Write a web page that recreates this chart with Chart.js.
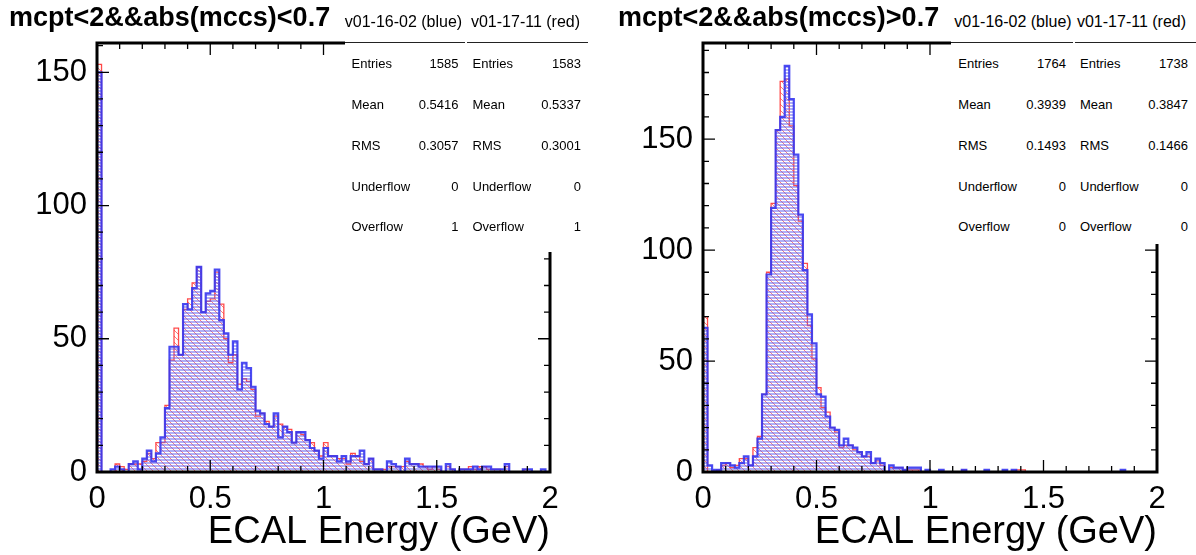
<!DOCTYPE html>
<html><head><meta charset="utf-8">
<script src="https://cdn.jsdelivr.net/npm/chart.js@4.4.0/dist/chart.umd.min.js"></script>
<style>
html,body{margin:0;padding:0;background:#fff;}
#wrap{position:relative;width:1196px;height:555px;overflow:hidden;font-family:"Liberation Sans",Arial,Helvetica,sans-serif;}
canvas{position:absolute;top:0;}
.t{position:absolute;white-space:nowrap;color:#000;line-height:1.15;transform:translateY(-50%);}
.title{font-weight:bold;font-size:27px;}
.hdr{font-size:16px;}
.row{font-size:13px;}
.box{position:absolute;background:#fff;}
.ul{position:absolute;height:1px;background:#222;}
</style></head>
<body><div id="wrap">
<canvas id="c1" width="598" height="555" style="left:0"></canvas>
<canvas id="c2" width="598" height="555" style="left:598px"></canvas>
</div>
<script>
// ---------------- data ----------------
const X_MIN = 0, X_MAX = 2, N_BINS = 100;
const X_TICKS_STEP = 0.5;
const Y_TICK_STEP = 50;
const PANEL_TITLES = ['mcpt<2&&abs(mccs)<0.7', 'mcpt<2&&abs(mccs)>0.7'];
const AXIS_TITLE = 'ECAL Energy (GeV)';
const SERIES_NAMES = ['v01-16-02 (blue)', 'v01-17-11 (red)'];
const STAT_LABELS = ['Entries', 'Mean', 'RMS', 'Underflow', 'Overflow'];
const STATS_L_BLUE = ['1585', '0.5416', '0.3057', '0', '1'];
const STATS_L_RED  = ['1583', '0.5337', '0.3001', '0', '1'];
const STATS_R_BLUE = ['1764', '0.3939', '0.1493', '0', '0'];
const STATS_R_RED  = ['1738', '0.3847', '0.1466', '0', '0'];

// left panel |mccs|<0.7
const L_BLUE = [150,0,0,1,2,1,0,3,4,1, 5,8,4,7,13,24,47,47,44,63, 61,69,77,60,67,68,76,57,52,44,
 49,31,41,39,32,23,22,18,17,22, 13,17,15,11,15,15,12,9,8,5, 9,6,6,4,6,4,6,6,8,3,
 5,1,1,0,4,3,2,0,5,3, 3,2,2,2,2,2,0,3,1,0, 1,1,1,2,1,2,2,1,1,1, 3,0,0,0,1,1,0,0,1,0];
const L_RED = [153,0,0,0,3,2,1,3,3,3, 4,7,5,11,11,25,42,54,44,61, 65,71,77,60,64,65,75,63,50,41,
 44,33,35,34,31,21,22,19,17,21, 18,17,16,11,15,14,12,11,8,6, 11,6,6,5,5,3,7,6,4,3,
 5,1,1,1,2,2,2,2,4,3, 3,3,2,1,2,1,0,2,1,0, 1,1,2,1,2,2,1,1,1,0, 2,0,0,0,1,0,0,0,0,0];
// right panel |mccs|>0.7
const R_BLUE = [65,3,1,1,4,4,3,2,4,7, 3,7,15,35,89,119,154,160,183,168, 143,116,91,71,58,35,34,25,20,19,
 12,15,12,11,9,7,9,4,6,4, 0,3,2,2,1,2,2,2,0,1, 0,0,1,0,0,0,0,1,0,0,
 0,0,1,0,0,0,1,0,1,0, 0,0,0,0,0,0,0,0,0,0, 0,0,0,0,0,0,0,0,0,0, 0,0,1,0,0,0,0,0,0,0];
const R_RED = [70,0,0,1,3,4,2,3,6,6, 3,11,16,35,90,121,154,176,177,156, 129,113,94,66,51,38,29,27,20,18,
 11,12,12,10,9,7,7,4,5,3, 0,2,2,2,1,1,1,1,0,0, 0,0,0,0,0,0,0,1,0,0,
 0,0,0,0,0,0,0,0,0,1, 1,0,0,0,0,0,0,0,0,0, 0,0,0,0,0,0,0,0,0,0, 0,0,0,0,0,0,0,0,0,0];

const FONT = '"Liberation Sans", Arial, Helvetica, sans-serif';
const BIN_W = (X_MAX - X_MIN) / N_BINS;

function histPoints(vals){
  const pts = [{x: X_MIN, y: 0}];
  vals.forEach((v, i) => pts.push({x: X_MIN + i * BIN_W, y: v}));
  pts.push({x: X_MAX, y: 0});
  return pts;
}

function makePattern(kind){
  const c = document.createElement('canvas');
  const g = c.getContext('2d');
  if (kind === 'blue'){
    c.width = 6; c.height = 3;
    g.fillStyle = 'rgba(95,95,240,0.5)';
    g.fillRect(0, 0, 6, 2);
  } else {
    c.width = 6; c.height = 6;
    g.fillStyle = 'rgba(255,40,40,0.62)';
    for (let i = 0; i < 6; i++) g.fillRect(i, i, 1, 1);
  }
  return g.createPattern(c, 'repeat');
}

const framePlugin = {
  id: 'rootFrame',
  afterDatasetsDraw(chart){
    const {ctx, chartArea: a, scales: {x, y}} = chart;
    ctx.save();
    ctx.strokeStyle = '#000';
    ctx.lineWidth = 1.3;
    ctx.beginPath();
    for (let i = 0; i <= 20; i++){
      const px = x.getPixelForValue(X_MIN + i * 0.1);
      const L = (i % 5 === 0) ? 12 : 6;
      ctx.moveTo(px, a.bottom); ctx.lineTo(px, a.bottom - L);
      ctx.moveTo(px, a.top); ctx.lineTo(px, a.top + L);
    }
    for (let v = 0; v <= y.max; v += 10){
      const py = y.getPixelForValue(v);
      const L = (v % 50 === 0) ? 12 : 6;
      ctx.moveTo(a.left, py); ctx.lineTo(a.left + L, py);
      ctx.moveTo(a.right, py); ctx.lineTo(a.right - L, py);
    }
    ctx.stroke();
    ctx.lineWidth = 3;
    ctx.strokeRect(a.left, a.top, a.right - a.left, a.bottom - a.top);
    ctx.restore();
  }
};

function makeChart(id, blue, red, yMax, padRight, yWidth){
  return new Chart(document.getElementById(id), {
    type: 'line',
    data: { datasets: [
      { data: histPoints(blue), stepped: 'before', fill: 'origin', backgroundColor: makePattern('blue'),
        borderColor: 'rgba(55,55,240,0.9)', borderWidth: 2.2, pointRadius: 0 },
      { data: histPoints(red), stepped: 'before', fill: 'origin', backgroundColor: makePattern('red'),
        borderColor: 'rgba(255,45,45,0.85)', borderWidth: 1.3, pointRadius: 0 }
    ]},
    options: {
      responsive: false, animation: false, devicePixelRatio: 1,
      layout: { padding: { left: 0, right: padRight, top: 43, bottom: 0 } },
      plugins: { legend: { display: false }, tooltip: { enabled: false } },
      scales: {
        x: { type: 'linear', min: X_MIN, max: X_MAX,
             grid: { display: false, drawTicks: false }, border: { display: false },
             ticks: { stepSize: X_TICKS_STEP, includeBounds: false, autoSkip: false, maxRotation: 0,
                      font: { family: FONT, size: 31 }, color: '#000', padding: 9,
                      callback: (v) => String(Math.round(v * 100) / 100) },
             title: { display: true, text: AXIS_TITLE, align: 'end', color: '#000',
                      font: { family: FONT, size: 38 }, padding: { top: 0, bottom: 0 } },
             afterFit(s){ s.height = 83; } },
        y: { min: 0, max: yMax,
             grid: { display: false, drawTicks: false }, border: { display: false },
             ticks: { stepSize: Y_TICK_STEP, includeBounds: false,
                      font: { family: FONT, size: 31 }, color: '#000', padding: 10 },
             afterFit(s){ s.width = yWidth; } }
      }
    },
    plugins: [framePlugin]
  });
}

makeChart('c1', L_BLUE, L_RED, 161, 48, 97);
makeChart('c2', R_BLUE, R_RED, 193.3, 39, 105);

// ---------------- overlays (titles, stat boxes) ----------------
const wrap = document.getElementById('wrap');
function el(cls, text, style){
  const d = document.createElement('div');
  d.className = cls; if (text !== null) d.textContent = text;
  Object.assign(d.style, style); wrap.appendChild(d); return d;
}
function statBox(cfg){
  el('box', null, {left: cfg.boxL + 'px', top: '0px', width: cfg.boxW + 'px', height: cfg.boxH + 'px'});
  cfg.cols.forEach((c, ci) => {
    const hd = el('t hdr', SERIES_NAMES[ci], {top: '22px', left: c.hc + 'px'});
    hd.style.transform = 'translate(-50%,-50%)';
    el('ul', null, {left: c.u0 + 'px', width: (c.u1 - c.u0) + 'px', top: '42px'});
    STAT_LABELS.forEach((lab, ri) => {
      const yy = cfg.rows[ri];
      el('t row', lab, {top: yy + 'px', left: c.lab + 'px'});
      const v = el('t row', c.vals[ri], {top: yy + 'px', left: c.val + 'px'});
      v.style.transform = 'translate(-100%,-50%)';
    });
  });
}
el('t title', PANEL_TITLES[0], {top: '18px', left: '9px'});
el('t title', PANEL_TITLES[1], {top: '18px', left: '618px'});
const ROWS_Y = [63.5, 104.5, 145.5, 186.5, 227];
statBox({boxL: 345, boxW: 253, boxH: 252, rows: ROWS_Y, cols: [
  {hc: 403.5, u0: 345, u1: 465, lab: 351.5, val: 458.5, vals: STATS_L_BLUE},
  {hc: 525.5, u0: 467, u1: 588, lab: 472.5, val: 581, vals: STATS_L_RED}]});
statBox({boxL: 951, boxW: 245, boxH: 244, rows: ROWS_Y, cols: [
  {hc: 1013, u0: 951, u1: 1073, lab: 958.3, val: 1066, vals: STATS_R_BLUE},
  {hc: 1131.5, u0: 1075, u1: 1196, lab: 1080, val: 1188, vals: STATS_R_RED}]});
</script>
</body></html>
